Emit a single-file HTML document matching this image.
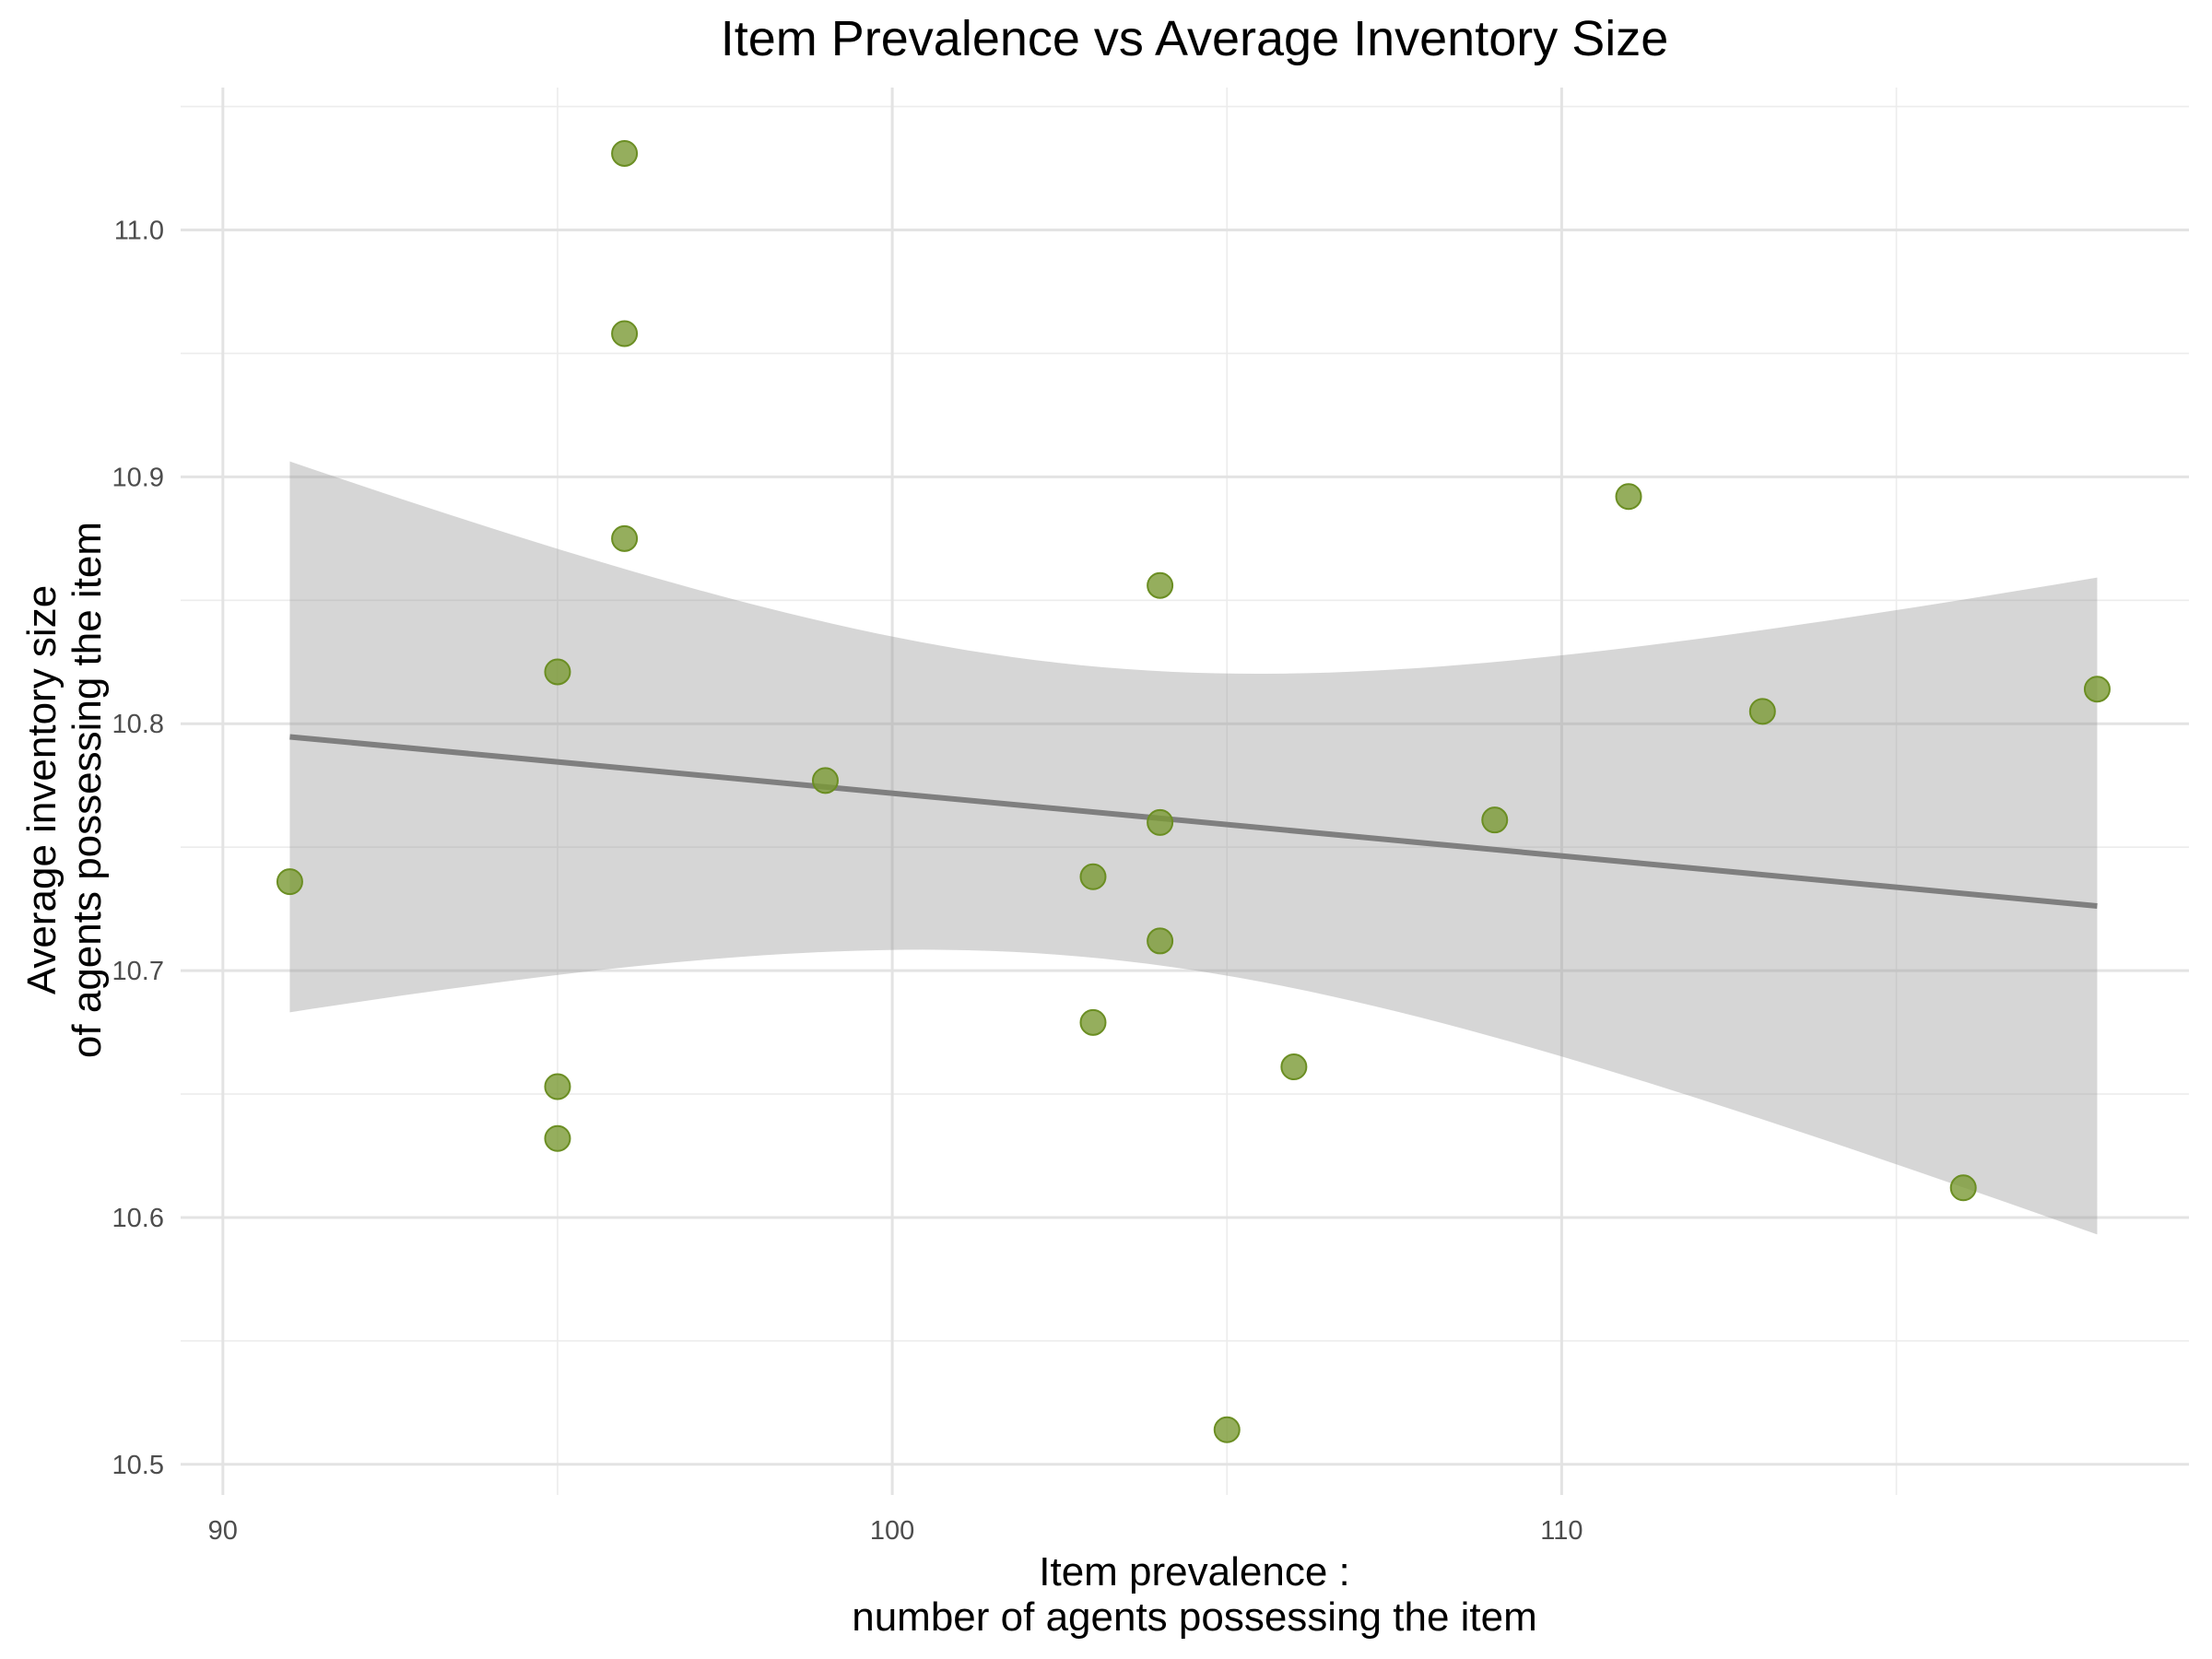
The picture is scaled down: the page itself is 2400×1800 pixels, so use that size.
<!DOCTYPE html>
<html><head><meta charset="utf-8"><style>
html,body{margin:0;padding:0;background:#fff}
svg{display:block;font-family:"Liberation Sans",Arial,sans-serif}
</style></head><body>
<svg id="chart" width="2400" height="1800" viewBox="0 0 2400 1800" xmlns="http://www.w3.org/2000/svg">
<rect width="2400" height="1800" fill="#fff"/>
<g id="grid"></g>
<g id="band"></g>
<g id="points"></g>
<g id="axes"></g>
<text x="1296" y="60" text-anchor="middle" font-size="54" fill="#000">Item Prevalence vs Average Inventory Size</text>
<text x="1296" y="1720" text-anchor="middle" font-size="44" fill="#000"><tspan x="1296" dy="0">Item prevalence :</tspan><tspan x="1296" dy="49">number of agents possessing the item</tspan></text>
<text transform="translate(60,857) rotate(-90)" text-anchor="middle" font-size="44" fill="#000"><tspan x="0" dy="0">Average inventory size</tspan><tspan x="0" dy="49">of agents possessing the item</tspan></text>
</svg>
<script>
const xValues=[91,95,95,95,96,96,96,99,103,103,104,104,104,105,106,109,111,113,116,118];
const yValues=[10.736,10.821,10.653,10.632,11.031,10.958,10.875,10.777,10.738,10.679,10.856,10.760,10.712,10.514,10.661,10.761,10.892,10.805,10.612,10.814];
const xTicks=[90,100,110];
const xMinor=[95,105,115];
const yTicks=[10.5,10.6,10.7,10.8,10.9,11.0];
const yTickLabels=["10.5","10.6","10.7","10.8","10.9","11.0"];
const yMinor=[10.55,10.65,10.75,10.85,10.95,11.05];

const NS="http://www.w3.org/2000/svg";
const PL=196,PR=2375,PT=95,PB=1622;
function xs(v){return 241.8+(v-90)*72.63;}
function ys(v){return 249.5+(11-v)*2678.6;}
function mk(tag,attrs,parent){const e=document.createElementNS(NS,tag);for(const k in attrs)e.setAttribute(k,attrs[k]);parent.appendChild(e);return e;}
const grid=document.getElementById('grid'),axes=document.getElementById('axes');
yMinor.forEach(v=>{const l=mk('line',{x1:PL,x2:PR,y1:ys(v),y2:ys(v),stroke:'#ececec','stroke-width':1.6},grid);

});
xMinor.forEach(v=>{const l=mk('line',{x1:xs(v),x2:xs(v),y1:PT,y2:PB,stroke:'#ececec','stroke-width':1.6},grid);

});
yTicks.forEach((v,i)=>{const l=mk('line',{x1:PL,x2:PR,y1:ys(v),y2:ys(v),stroke:'#e3e3e3','stroke-width':3},grid);


const t=mk('text',{x:178,y:ys(v)+10,'text-anchor':'end','font-size':29,fill:'#4d4d4d'},axes);t.textContent=yTickLabels[i];

});
xTicks.forEach(v=>{const l=mk('line',{x1:xs(v),x2:xs(v),y1:PT,y2:PB,stroke:'#e3e3e3','stroke-width':3},grid);


const t=mk('text',{x:xs(v),y:1670,'text-anchor':'middle','font-size':29,fill:'#4d4d4d'},axes);t.textContent=String(v);

});
const n=xValues.length;const mx=xValues.reduce((a,b)=>a+b)/n,my=yValues.reduce((a,b)=>a+b)/n;
let sxx=0,sxy=0;for(let i=0;i<n;i++){sxx+=(xValues[i]-mx)**2;sxy+=(xValues[i]-mx)*(yValues[i]-my);}
const b=sxy/sxx,a=my-b*mx;let sse=0;for(let i=0;i<n;i++)sse+=(yValues[i]-a-b*xValues[i])**2;
const s=Math.sqrt(sse/(n-2)),tq=2.101;
const x0=Math.min(...xValues),x1=Math.max(...xValues);
const up=[],lo=[];for(let k=0;k<=80;k++){const x=x0+(x1-x0)*k/80;const f=a+b*x;const se=s*Math.sqrt(1/n+(x-mx)**2/sxx);
up.push(xs(x)+','+ys(f+tq*se));lo.unshift(xs(x)+','+ys(f-tq*se));}
const band=document.getElementById('band');
const poly=mk('polygon',{points:up.concat(lo).join(' '),fill:'#999999','fill-opacity':0.4},band);


const pts=document.getElementById('points');
for(let i=0;i<n;i++){const c=mk('circle',{cx:xs(xValues[i]),cy:ys(yValues[i]),r:13.5,fill:'#7a9a35','fill-opacity':0.8,stroke:'#6b8e23','stroke-width':2},pts);

}
const rl=mk('line',{x1:xs(x0),y1:ys(a+b*x0),x2:xs(x1),y2:ys(a+b*x1),stroke:'#7f7f7f','stroke-width':6},band);


</script>
</body></html>
